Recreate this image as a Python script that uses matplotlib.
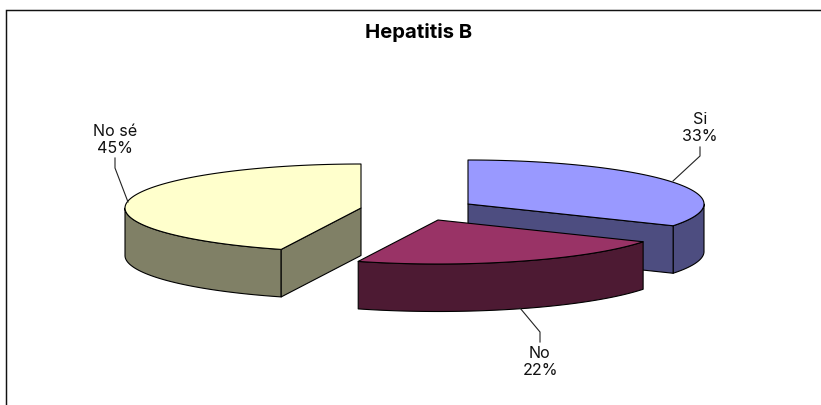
import numpy as np
import matplotlib
matplotlib.use("Agg")
import matplotlib.pyplot as plt
from matplotlib.patches import Polygon, Rectangle

title = "Hepatitis B"
categories = ["Si", "No", "No sé"]
values = [33.3, 22.3, 44.6]

top_colors = ["#9999FF", "#993366", "#FFFFCC"]
side_colors = ["#4D4D80", "#4D1A33", "#808066"]
apexes = [(468, 205), (438, 221), (361, 209)]
label_xy = [(700, 128), (540, 362), (115, 140)]
leaders = [[(700, 148), (700, 157), (673, 182)],
           [(540, 343), (540, 333), (520, 309)],
           [(115, 159), (115, 169), (128, 203)]]
A, B, DEPTH = 236, 44, 47.5
FONT = "Inter"

fig = plt.figure(figsize=(8.21, 4.06), dpi=100, facecolor="white")
ax = fig.add_axes([0, 0, 1, 1])
ax.set_xlim(0, 821)
ax.set_ylim(406, 0)
ax.axis("off")

ax.add_patch(Rectangle((6.4, 10.6), 1000, 1000, fc="white", ec="#111111", lw=1.05, zorder=0))


def arc(cx, cy, t0, t1, n=120):
    t = np.radians(np.linspace(t0, t1, n))
    return np.column_stack([cx + A * np.sin(t), cy - B * np.cos(t)])


def poly(pts, fc, z):
    ax.add_patch(Polygon(pts, closed=True, fc=fc, ec="black", lw=0.8, joinstyle="round", zorder=z))


down = np.array([0, DEPTH])
angles = np.concatenate([[0], np.cumsum(values) / np.sum(values) * 360])
order = [0, 2, 1]  # back to front
for z, i in enumerate(order):
    t0, t1 = angles[i], angles[i + 1]
    cx, cy = apexes[i]
    apex = np.array([cx, cy], float)
    base = 2 + z * 3
    # outer rim (front half only)
    lo, hi = max(t0, 90), min(t1, 270)
    if lo < hi:
        rim = arc(cx, cy, lo, hi)
        poly(np.vstack([rim, (rim + down)[::-1]]), side_colors[i], base)
    # cut faces
    if 0 < t1 < 180:
        c = arc(cx, cy, t1, t1, 1)[0]
        poly([apex, c, c + down, apex + down], side_colors[i], base + 1)
    if 180 < t0 < 360:
        c = arc(cx, cy, t0, t0, 1)[0]
        poly([apex, c, c + down, apex + down], side_colors[i], base + 1)
    # top
    poly(np.vstack([apex, arc(cx, cy, t0, t1)]), top_colors[i], base + 2)

for name, v, (x, y), pts in zip(categories, values, label_xy, leaders):
    ax.text(x, y, f"{name}\n{v:.0f}%", ha="center", va="center", fontsize=11.6,
            family=FONT, color="#111111", linespacing=1.12, zorder=30)
    p = np.array(pts)
    ax.plot(p[:, 0], p[:, 1], color="#222222", lw=0.8, zorder=30)

ax.text(419, 32, title, ha="center", va="center", fontsize=14.6, fontweight="bold",
        family=FONT, color="black", zorder=30)

fig.savefig("out.png", dpi=100, facecolor="white")
